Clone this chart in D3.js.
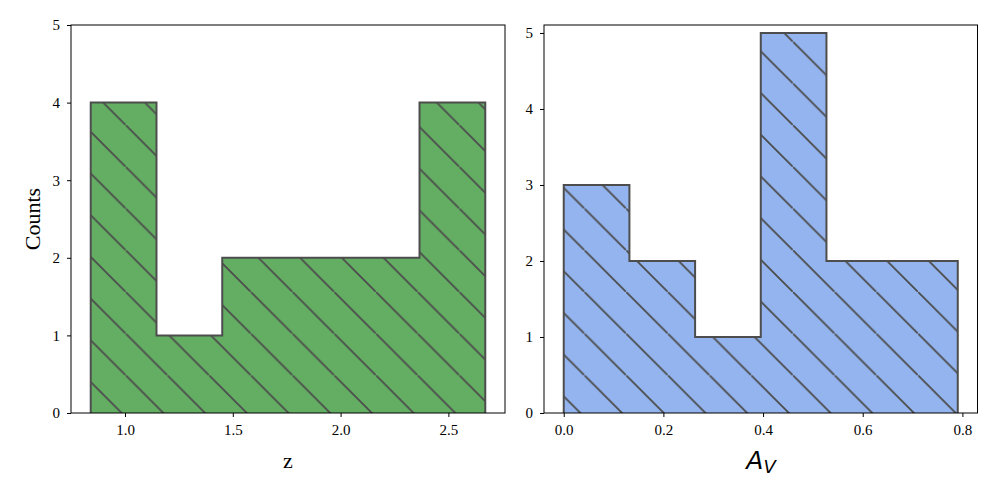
<!DOCTYPE html>
<html><head><meta charset="utf-8">
<script src="https://cdn.jsdelivr.net/npm/d3@7"></script>
<style>body{margin:0;background:#fff}svg{display:block}</style>
</head><body>
<svg id="c" width="997" height="498"></svg>
<script>
// Data
const zEdges = [0.841, 1.146, 1.451, 1.756, 2.061, 2.366, 2.671];
const zCounts = [4, 1, 2, 2, 2, 4];
const zTicks = [1.0, 1.5, 2.0, 2.5];
const avEdges = [0.0, 0.1318, 0.2636, 0.3954, 0.5272, 0.659, 0.7907];
const avCounts = [3, 2, 1, 5, 2, 2];
const avTicks = [0.0, 0.2, 0.4, 0.6, 0.8];
const yTicks = [0, 1, 2, 3, 4, 5];

const svg = d3.select("#c");
const edgeCol = "#4d4d4d";
const defs = svg.append("defs");
function hatch(id, fill) {
  const w = 41.7;
  const p = defs.append("pattern").attr("id", id).attr("patternUnits", "userSpaceOnUse")
    .attr("x", 0.6).attr("y", 0).attr("width", w).attr("height", w);
  p.append("rect").attr("width", w).attr("height", w).attr("fill", fill);
  [[-w/2, -w/2, w/2, w/2], [0, 0, w, w], [w/2, w/2, 1.5*w, 1.5*w]].forEach(l =>
    p.append("line").attr("x1", l[0]).attr("y1", l[1]).attr("x2", l[2]).attr("y2", l[3])
      .attr("stroke", edgeCol).attr("stroke-width", 1.5));
}
hatch("hg", "#63ae63");
hatch("hb", "#93b4ee");

function panel(o) {
  const x = d3.scaleLinear().domain(o.xdom).range([o.left, o.right]);
  const y = d3.scaleLinear().domain(o.ydom).range([413, 25]);
  const g = svg.append("g");
  // step outline
  const pts = [];
  o.edges.forEach((e, i) => {
    if (i < o.counts.length) { pts.push([x(e), y(i === 0 ? 0 : o.counts[i-1])]); pts.push([x(e), y(o.counts[i])]); }
  });
  const last = o.edges[o.edges.length - 1];
  pts.push([x(last), y(o.counts[o.counts.length - 1])]);
  pts.push([x(last), y(0)]);
  const path = "M" + x(o.edges[0]) + "," + y(0) + "L" + pts.map(p => p.join(",")).join("L");
  g.append("path").attr("d", path + "Z").attr("fill", "url(#" + o.pat + ")").attr("stroke", "none");
  g.append("path").attr("d", path).attr("fill", "none").attr("stroke", edgeCol).attr("stroke-width", 2);
  // frame
  g.append("rect").attr("x", o.left).attr("y", 25).attr("width", o.right - o.left).attr("height", 388)
    .attr("fill", "none").attr("stroke", "#000").attr("stroke-width", 1);
  const xa = g.append("g").attr("transform", "translate(0,413)")
    .call(d3.axisBottom(x).tickValues(o.xticks).tickFormat(d3.format(".1f")).tickSizeOuter(0).tickSize(4).tickPadding(7));
  const ya = g.append("g").attr("transform", "translate(" + o.left + ",0)")
    .call(d3.axisLeft(y).tickValues(yTicks).tickFormat(d3.format("d")).tickSizeOuter(0).tickSize(4).tickPadding(7));
  [xa, ya].forEach(a => {
    a.select(".domain").remove();
    a.selectAll("line").attr("stroke", "#000");
    a.selectAll("text").attr("font-family", "Liberation Serif").attr("font-size", 15).attr("fill", "#000");
  });
  return g;
}

panel({xdom: [0.7495, 2.7625], left: 71, right: 505, edges: zEdges, counts: zCounts, xticks: zTicks, ydom: [0, 5], pat: "hg"});
panel({xdom: [-0.0396, 0.8303], left: 544, right: 977.5, edges: avEdges, counts: avCounts, xticks: avTicks, ydom: [0, 5.105], pat: "hb"});

svg.append("text").attr("transform", "translate(40,219) rotate(-90)").attr("text-anchor", "middle")
  .attr("font-family", "Liberation Serif").attr("font-size", 22).text("Counts");
svg.append("text").attr("x", 288).attr("y", 468).attr("text-anchor", "middle")
  .attr("font-family", "Liberation Serif").attr("font-size", 22).text("z");
const av = svg.append("text").attr("x", 761).attr("y", 469).attr("text-anchor", "middle")
  .attr("font-family", "DejaVu Sans").attr("font-style", "italic").attr("font-size", 25);
av.append("tspan").text("A");
av.append("tspan").attr("font-size", 18).attr("dy", 4).text("V");
</script>
</body></html>
